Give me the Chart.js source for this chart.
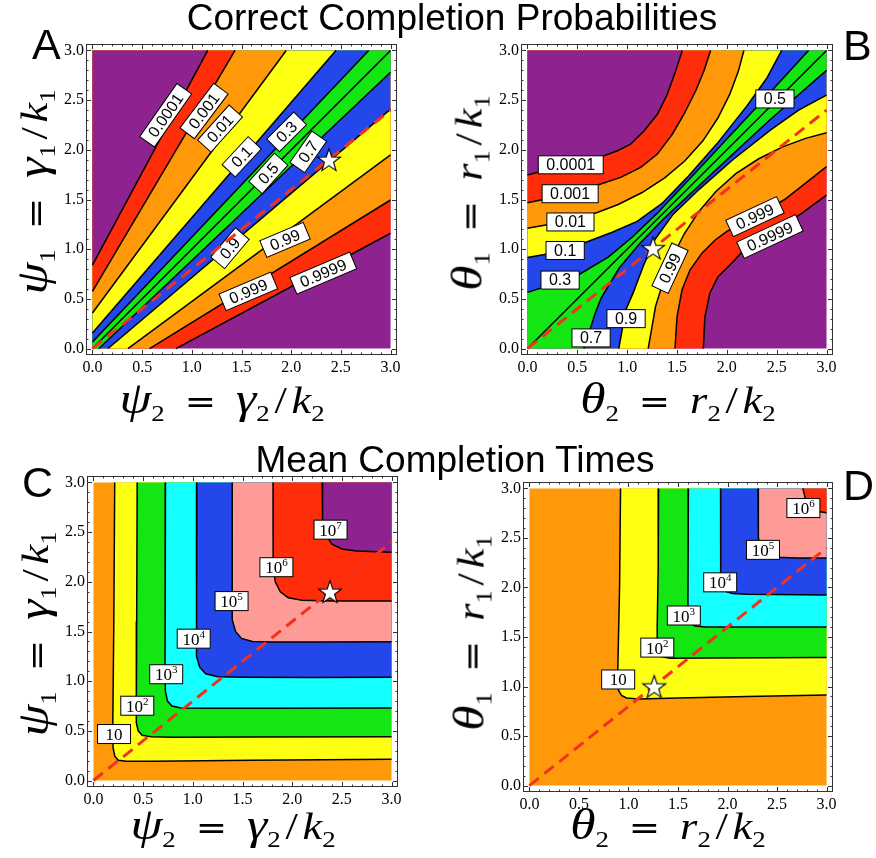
<!DOCTYPE html>
<html><head><meta charset="utf-8">
<script src="https://cdn.jsdelivr.net/npm/chart.js@4.4.0/dist/chart.umd.min.js"></script>
<style>
html,body{margin:0;padding:0;background:#fff;}
#wrap{position:relative;width:876px;height:858px;overflow:hidden;}
canvas{position:absolute;left:0;top:0;}
.t{position:absolute;font-family:"Liberation Sans",Arial,sans-serif;color:#000;white-space:nowrap;line-height:1;z-index:5;}
.title{font-size:37px;transform:translateX(-50%);}
.letter{font-size:43px;}
.ax{position:absolute;z-index:5;font-family:"Liberation Serif","Times New Roman",serif;font-style:italic;font-size:38px;line-height:38px;white-space:nowrap;transform:translate(-50%,-50%) scaleX(1.17);color:#000;}
.ax.rot{transform:translate(-50%,-50%) rotate(-90deg) scaleX(1.17);}
.ax .g{font-size:44px;}
.ax sub{font-size:23px;vertical-align:-8px;line-height:0;font-style:normal;}
.ax .eq{font-family:"DejaVu Sans",sans-serif;font-style:normal;font-size:32px;margin:0 17px;}
.ax .sl{font-style:normal;margin:0 4px;}
</style></head>
<body>
<div id="wrap">
<canvas id="cA" width="876" height="858"></canvas>
<canvas id="cB" width="876" height="858"></canvas>
<canvas id="cC" width="876" height="858"></canvas>
<canvas id="cD" width="876" height="858"></canvas>

<div class="t title" style="left:452px;top:-1px">Correct Completion Probabilities</div>
<div class="t title" style="left:455px;top:441px">Mean Completion Times</div>
<div class="t letter" style="left:32px;top:23px">A</div>
<div class="t letter" style="left:843px;top:24px">B</div>
<div class="t letter" style="left:22px;top:461px">C</div>
<div class="t letter" style="left:843px;top:464px">D</div>

<div class="ax" style="left:222px;top:400px"><span class="g">ψ</span><sub>2</sub><span class="eq">=</span><span class="g">γ</span><sub>2</sub><span class="sl">/</span>k<sub>2</sub></div>
<div class="ax rot" style="left:34px;top:192px"><span class="g">ψ</span><sub>1</sub><span class="eq">=</span><span class="g">γ</span><sub>1</sub><span class="sl">/</span>k<sub>1</sub></div>
<div class="ax" style="left:678px;top:400px"><span class="g">θ</span><sub>2</sub><span class="eq">=</span>r<sub>2</sub><span class="sl">/</span>k<sub>2</sub></div>
<div class="ax rot" style="left:469px;top:193px"><span class="g">θ</span><sub>1</sub><span class="eq">=</span>r<sub>1</sub><span class="sl">/</span>k<sub>1</sub></div>
<div class="ax" style="left:233px;top:826px"><span class="g">ψ</span><sub>2</sub><span class="eq">=</span><span class="g">γ</span><sub>2</sub><span class="sl">/</span>k<sub>2</sub></div>
<div class="ax rot" style="left:35px;top:634px"><span class="g">ψ</span><sub>1</sub><span class="eq">=</span><span class="g">γ</span><sub>1</sub><span class="sl">/</span>k<sub>1</sub></div>
<div class="ax" style="left:668px;top:826px"><span class="g">θ</span><sub>2</sub><span class="eq">=</span>r<sub>2</sub><span class="sl">/</span>k<sub>2</sub></div>
<div class="ax rot" style="left:471px;top:633px"><span class="g">θ</span><sub>1</sub><span class="eq">=</span>r<sub>1</sub><span class="sl">/</span>k<sub>1</sub></div>
</div>

<script>
// ---------------- DATA ----------------
const TICKS = [0, 0.5, 1.0, 1.5, 2.0, 2.5, 3.0];
const REF_LINE = [[0, 0], [3, 2.4]];
const SQUARE = [[0, 0], [3, 0], [3, 3], [0, 3]];

// Panel A: correct completion probability contours (psi2, psi1)
const A_LEVELS = ['0.0001','0.001','0.01','0.1','0.3','0.5','0.7','0.9','0.99','0.999','0.9999'];
const A_C0001 = [[0, 0.84], [1.16, 3]];
const A_C001  = [[0, 0.575], [1.435, 3]];
const A_C01   = [[0, 0.357], [1.95, 3]];
const A_C1    = [[0, 0.157], [2.45, 3]];
const A_C3    = [[0, 0.065], [2.78, 3]];
const A_C5    = [[0, 0], [3, 3]];
const A_C7    = [[0.065, 0], [3, 2.78]];
const A_C9    = [[0.157, 0], [3, 2.41]];
const A_C99   = [[0.357, 0], [3, 1.95]];
const A_C999  = [[0.575, 0], [3, 1.495]];
const A_C9999 = [[0.84, 0], [3, 1.16]];
const A_STAR  = [2.38, 1.9];

// Panel B: correct completion probability contours (theta2, theta1)
const B_LEVELS = ['0.0001','0.001','0.01','0.1','0.3','0.5','0.7','0.9','0.99','0.999','0.9999'];
const B_C0001 = [[0,1.746],[0.435,1.865],[0.768,1.94],[0.902,1.99],[1.035,2.057],[1.169,2.19],[1.303,2.358],[1.403,2.559],[1.486,2.793],[1.553,3.0]];
const B_C001  = [[0,1.468],[0.43,1.555],[0.735,1.656],[0.935,1.723],[1.136,1.823],[1.303,1.957],[1.453,2.157],[1.57,2.358],[1.687,2.592],[1.77,2.793],[1.837,3.0]];
const B_C01   = [[0,1.211],[0.425,1.285],[0.70,1.37],[0.91,1.45],[1.15,1.57],[1.38,1.72],[1.58,1.89],[1.76,2.09],[1.91,2.32],[2.03,2.56],[2.115,2.79],[2.171,3.0]];
const B_C1    = [[0,0.916],[0.385,0.985],[0.56,1.06],[0.85,1.17],[1.1,1.28],[1.35,1.46],[1.6,1.72],[1.9,2.06],[2.2,2.44],[2.4,2.72],[2.55,3.0]];
const B_C3    = [[0,0.565],[0.365,0.683],[0.51,0.74],[0.81,0.92],[1.05,1.12],[1.3,1.36],[1.75,1.84],[2.3,2.43],[2.82,3.0]];
const B_C5    = [[0,0],[3,3]];
const B_C7    = [[0.565,0],[0.683,0.365],[0.74,0.51],[0.92,0.81],[1.12,1.05],[1.36,1.3],[1.84,1.75],[2.43,2.3],[3.0,2.80]];
const B_C9    = [[0.916,0],[0.985,0.385],[1.06,0.56],[1.17,0.85],[1.28,1.1],[1.46,1.35],[1.72,1.6],[2.06,1.9],[2.44,2.2],[2.72,2.4],[3.0,2.55]];
const B_C99   = [[1.211,0],[1.285,0.425],[1.37,0.70],[1.45,0.91],[1.57,1.15],[1.72,1.38],[1.89,1.58],[2.09,1.76],[2.32,1.91],[2.56,2.03],[2.79,2.115],[3.0,2.171]];
const B_C999  = [[1.48,0],[1.50,0.32],[1.55,0.59],[1.63,0.79],[1.75,0.96],[1.88,1.09],[2.0,1.18],[2.28,1.33],[2.58,1.50],[3.0,1.83]];
const B_C9999 = [[1.764,0],[1.78,0.32],[1.83,0.56],[1.91,0.72],[2.05,0.86],[2.17,0.99],[2.43,1.15],[2.75,1.36],[3.0,1.545]];
const B_STAR  = [1.26, 1.01];

// Panel C: mean completion time contours (psi2, psi1), levels 10^k
const C_EXPONENTS = [1, 2, 3, 4, 5, 6, 7];
const C_E1 = [[0.214,3],[0.205,1.6],[0.195,0.6],[0.197,0.33],[0.215,0.245],[0.25,0.205],[0.33,0.195],[0.6,0.195],[1.6,0.205],[3,0.214]];
const C_E2 = [[0.44,3],[0.435,1.6],[0.43,0.8],[0.433,0.58],[0.45,0.5],[0.49,0.455],[0.58,0.44],[0.8,0.435],[1.6,0.437],[3,0.44]];
const C_E3 = [[0.725,3],[0.722,1.8],[0.72,1.1],[0.724,0.9],[0.745,0.8],[0.79,0.75],[0.88,0.73],[1.1,0.727],[1.8,0.728],[3,0.73]];
const C_E4 = [[1.04,3],[1.037,2.0],[1.035,1.45],[1.04,1.25],[1.07,1.14],[1.13,1.075],[1.25,1.045],[1.5,1.04],[2.2,1.038],[3,1.04]];
const C_E5 = [[1.397,3],[1.395,2.2],[1.395,1.8],[1.4,1.62],[1.43,1.5],[1.49,1.43],[1.6,1.4],[1.8,1.395],[2.3,1.395],[3,1.397]];
const C_E6 = [[1.807,3],[1.807,2.5],[1.81,2.15],[1.83,2.0],[1.88,1.9],[1.96,1.84],[2.1,1.815],[2.4,1.808],[3,1.806]];
const C_E7 = [[2.302,3],[2.302,2.75],[2.31,2.6],[2.34,2.47],[2.4,2.38],[2.5,2.33],[2.65,2.31],[3,2.297]];
const C_STAR = [2.38, 1.9];

// Panel D: mean completion time contours (theta2, theta1), levels 10^k
const D_EXPONENTS = [1, 2, 3, 4, 5, 6];
const D_E1 = [[0.92,3],[0.91,2.0],[0.895,1.3],[0.89,1.05],[0.9,0.96],[0.93,0.91],[0.98,0.885],[1.1,0.875],[1.5,0.885],[2.2,0.9],[3,0.914]];
const D_E2 = [[1.304,3],[1.3,2.2],[1.29,1.6],[1.29,1.42],[1.305,1.335],[1.34,1.3],[1.42,1.285],[1.8,1.288],[3,1.292]];
const D_E3 = [[1.605,3],[1.602,2.3],[1.6,1.85],[1.605,1.7],[1.625,1.64],[1.67,1.61],[1.78,1.6],[2.3,1.6],[3,1.6]];
const D_E4 = [[1.93,3],[1.93,2.4],[1.932,2.12],[1.945,2.0],[1.98,1.96],[2.05,1.94],[2.2,1.932],[3,1.925]];
const D_E5 = [[2.308,3],[2.308,2.7],[2.315,2.5],[2.34,2.39],[2.4,2.33],[2.5,2.305],[2.7,2.298],[3,2.297]];
const D_E6 = [[2.76,3],[2.79,2.88],[2.85,2.8],[2.93,2.765],[3,2.755]];
const D_STAR = [1.26, 1.0];

// ---------------- LAYOUT / STYLE ----------------
const COL = {purple:'#8e2390', red:'#ff2d0a', orange:'#ff990a', yellow:'#ffff14', blue:'#2347eb', green:'#14e614', cyan:'#14ffff', pink:'#ff9b96'};
const CLOSE_UPPER = [[0, 3]];
const CLOSE_LOWER = [[3, 3], [0, 3], [0, 0]];
const CLOSE_CORNER = [[3, 3]];

const A_LABEL_POS = [[0.737,2.348,-55],[1.123,2.391,-53],[1.284,2.214,-48],[1.502,1.93,-47],[1.954,2.181,-45],[1.77,1.763,-48],[2.172,1.98,-55],[1.384,1.01,-50],[1.938,1.094,-23],[1.569,0.575,-23],[2.323,0.759,-23]];
const B_LABEL_POS = [[0.434,1.849,0],[0.428,1.558,0],[0.431,1.274,0],[0.378,0.987,0],[0.327,0.689,0],[2.482,2.512,0],[0.638,0.107,0],[0.989,0.301,0],[1.43,0.809,-65],[2.282,1.328,-25],[2.432,1.127,-25]];
const C_LABEL_POS = [[0.207,0.468],[0.441,0.753],[0.732,1.07],[1.009,1.428],[1.39,1.806],[1.841,2.147],[2.386,2.525]];
const D_LABEL_POS = [[0.896,1.071],[1.291,1.393],[1.559,1.717],[1.926,2.052],[2.358,2.38],[2.766,2.802]];

const STAR_IMG = (function(){
  const c = document.createElement('canvas'); c.width = 28; c.height = 28;
  const g = c.getContext('2d');
  g.beginPath();
  for (let i = 0; i < 10; i++) {
    const r = i % 2 === 0 ? 12 : 4.8;
    const a = -Math.PI / 2 + i * Math.PI / 5;
    const px = 14 + r * Math.cos(a), py = 15 + r * Math.sin(a);
    if (i) g.lineTo(px, py); else g.moveTo(px, py);
  }
  g.closePath(); g.fillStyle = '#fff'; g.fill();
  g.lineWidth = 1.1; g.strokeStyle = '#000'; g.stroke();
  return c;
})();

function P(a){ return a.map(p => ({x:p[0], y:p[1]})); }

function makeDatasets(layers, lines, star){
  const ds = [];
  let ord = 100;
  for (const [pts, color] of layers) {
    ds.push({data:P(pts), showLine:true, fill:'shape', backgroundColor:color, borderColor:'rgba(0,0,0,0)', borderWidth:0, pointRadius:0, pointHoverRadius:0, tension:0, order:ord--});
  }
  for (const l of lines) {
    ds.push({data:P(l), showLine:true, fill:false, borderColor:'#000', borderWidth:1.5, pointRadius:0, pointHoverRadius:0, tension:0, order:10});
  }
  ds.push({data:P(REF_LINE), isRef:true, showLine:true, fill:false, borderColor:'#f0321e', borderWidth:3, borderDash:[12,7], pointRadius:0, pointHoverRadius:0, tension:0, order:5});
  ds.push({data:P([star]), isStar:true, showLine:false, pointStyle:STAR_IMG, pointRadius:12, pointHoverRadius:12, order:0});
  return ds;
}

function sup(n){ return n === 1 ? '' : String(n); }

function makeLabelPlugin(items, kind){
  function drawLabels(chart){
    const ctx = chart.ctx, xs = chart.scales.x, ys = chart.scales.y;
    for (const it of items) {
      const px = xs.getPixelForValue(it.x), py = ys.getPixelForValue(it.y);
      ctx.save();
      ctx.translate(px, py);
      ctx.rotate((it.rot || 0) * Math.PI / 180);
      if (kind === 'prob') {
        ctx.font = '16px "Liberation Sans", Arial, sans-serif';
        const tw = ctx.measureText(it.text).width;
        const w = tw + 16, h = 18;
        ctx.fillStyle = '#fff'; ctx.fillRect(-w/2, -h/2, w, h);
        ctx.lineWidth = 1; ctx.strokeStyle = '#000'; ctx.strokeRect(-w/2, -h/2, w, h);
        ctx.fillStyle = '#000'; ctx.textAlign = 'center'; ctx.textBaseline = 'middle';
        ctx.fillText(it.text, 0, 1);
      } else {
        const w = 33, h = 19;
        ctx.fillStyle = '#fff'; ctx.fillRect(-w/2, -h/2, w, h);
        ctx.lineWidth = 1; ctx.strokeStyle = '#000'; ctx.strokeRect(-w/2, -h/2, w, h);
        ctx.fillStyle = '#000'; ctx.textBaseline = 'alphabetic'; ctx.textAlign = 'left';
        ctx.font = '17px "Liberation Serif", "Times New Roman", serif';
        const bw = ctx.measureText('10').width;
        ctx.font = '11px "Liberation Serif", "Times New Roman", serif';
        const ew = it.exp ? ctx.measureText(it.exp).width : 0;
        const x0 = -(bw + ew) / 2;
        ctx.font = '17px "Liberation Serif", "Times New Roman", serif';
        ctx.fillText('10', x0, 6);
        if (it.exp) {
          ctx.font = '11px "Liberation Serif", "Times New Roman", serif';
          ctx.fillText(it.exp, x0 + bw, -1);
        }
      }
      ctx.restore();
    }
  }
  return {
    id: 'clabels',
    beforeDatasetDraw(chart, args){
      if (chart.data.datasets[args.index].isRef) drawLabels(chart);
    }
  };
}

const framePlugin = {
  id: 'frame',
  afterDatasetsDraw(chart){
    const ctx = chart.ctx, a = chart.chartArea, xs = chart.scales.x, ys = chart.scales.y;
    ctx.save();
    ctx.strokeStyle = '#333'; ctx.lineWidth = 1;
    ctx.strokeRect(Math.round(a.left) + 0.5, Math.round(a.top) + 0.5, Math.round(a.right - a.left) - 1, Math.round(a.bottom - a.top) - 1);
    ctx.beginPath();
    for (let i = 0; i <= 30; i++) {
      const v = i / 10, L = (i % 5 === 0) ? 5 : 2.5;
      const px = Math.round(xs.getPixelForValue(v)) + 0.5;
      ctx.moveTo(px, a.bottom); ctx.lineTo(px, a.bottom - L);
      ctx.moveTo(px, a.top); ctx.lineTo(px, a.top + L);
      const py = Math.round(ys.getPixelForValue(v)) + 0.5;
      ctx.moveTo(a.left, py); ctx.lineTo(a.left + L, py);
      ctx.moveTo(a.right, py); ctx.lineTo(a.right - L, py);
    }
    ctx.stroke();
    ctx.restore();
  }
};

const YW = 60, XH = 40;
function axis(which){
  return {
    type: 'linear', min: -0.065, max: 3.065,
    afterBuildTicks: s => { s.ticks = TICKS.map(v => ({value: v})); },
    afterFit: s => { if (which === 'y') s.width = YW; else s.height = XH; },
    ticks: {
      autoSkip: false, maxRotation: 0, color: '#000',
      padding: which === 'y' ? 2 : 3,
      font: {family: '"Liberation Serif", "Times New Roman", serif', size: 16},
      callback: v => Number(v).toFixed(1)
    },
    grid: {display: false, drawTicks: false},
    border: {display: false}
  };
}

function panel(id, frame, datasets, labelPlugin){
  new Chart(document.getElementById(id), {
    type: 'scatter',
    data: {datasets},
    options: {
      responsive: false, animation: false, events: [],
      layout: {padding: {left: frame.l - YW, top: frame.t, right: 876 - frame.r, bottom: 858 - frame.b - XH}},
      plugins: {legend: {display: false}, tooltip: {enabled: false}},
      scales: {x: axis('x'), y: axis('y')}
    },
    plugins: [labelPlugin, framePlugin]
  });
}

// ---------- Panel A ----------
panel('cA', {l:86, t:44, r:397, b:355}, makeDatasets([
  [SQUARE, COL.purple],
  [A_C9999.concat(CLOSE_LOWER), COL.red],
  [A_C999.concat(CLOSE_LOWER), COL.orange],
  [A_C99.concat(CLOSE_LOWER), COL.yellow],
  [A_C9.concat(CLOSE_LOWER), COL.blue],
  [A_C7.concat(CLOSE_LOWER), COL.green],
  [A_C3.concat(CLOSE_UPPER), COL.blue],
  [A_C1.concat(CLOSE_UPPER), COL.yellow],
  [A_C01.concat(CLOSE_UPPER), COL.orange],
  [A_C001.concat(CLOSE_UPPER), COL.red],
  [A_C0001.concat(CLOSE_UPPER), COL.purple]
], [A_C0001, A_C001, A_C01, A_C1, A_C3, A_C5, A_C7, A_C9, A_C99, A_C999, A_C9999], A_STAR),
  makeLabelPlugin(A_LEVELS.map((t, i) => ({text:t, x:A_LABEL_POS[i][0], y:A_LABEL_POS[i][1], rot:A_LABEL_POS[i][2]})), 'prob'));

// ---------- Panel B ----------
panel('cB', {l:521, t:44, r:833, b:355}, makeDatasets([
  [SQUARE, COL.purple],
  [B_C9999.concat(CLOSE_LOWER), COL.red],
  [B_C999.concat(CLOSE_LOWER), COL.orange],
  [B_C99.concat(CLOSE_LOWER), COL.yellow],
  [B_C9.concat(CLOSE_LOWER), COL.blue],
  [B_C7.concat(CLOSE_LOWER), COL.green],
  [B_C3.concat(CLOSE_UPPER), COL.blue],
  [B_C1.concat(CLOSE_UPPER), COL.yellow],
  [B_C01.concat(CLOSE_UPPER), COL.orange],
  [B_C001.concat(CLOSE_UPPER), COL.red],
  [B_C0001.concat(CLOSE_UPPER), COL.purple]
], [B_C0001, B_C001, B_C01, B_C1, B_C3, B_C5, B_C7, B_C9, B_C99, B_C999, B_C9999], B_STAR),
  makeLabelPlugin(B_LEVELS.map((t, i) => ({text:t, x:B_LABEL_POS[i][0], y:B_LABEL_POS[i][1], rot:B_LABEL_POS[i][2]})), 'prob'));

// ---------- Panel C ----------
panel('cC', {l:87, t:476, r:398, b:787}, makeDatasets([
  [SQUARE, COL.orange],
  [C_E1.concat(CLOSE_CORNER), COL.yellow],
  [C_E2.concat(CLOSE_CORNER), COL.green],
  [C_E3.concat(CLOSE_CORNER), COL.cyan],
  [C_E4.concat(CLOSE_CORNER), COL.blue],
  [C_E5.concat(CLOSE_CORNER), COL.pink],
  [C_E6.concat(CLOSE_CORNER), COL.red],
  [C_E7.concat(CLOSE_CORNER), COL.purple]
], [C_E1, C_E2, C_E3, C_E4, C_E5, C_E6, C_E7], C_STAR),
  makeLabelPlugin(C_EXPONENTS.map((e, i) => ({exp:sup(e), x:C_LABEL_POS[i][0], y:C_LABEL_POS[i][1], rot:0})), 'time'));

// ---------- Panel D ----------
panel('cD', {l:523, t:482, r:833, b:792}, makeDatasets([
  [SQUARE, COL.orange],
  [D_E1.concat(CLOSE_CORNER), COL.yellow],
  [D_E2.concat(CLOSE_CORNER), COL.green],
  [D_E3.concat(CLOSE_CORNER), COL.cyan],
  [D_E4.concat(CLOSE_CORNER), COL.blue],
  [D_E5.concat(CLOSE_CORNER), COL.pink],
  [D_E6.concat(CLOSE_CORNER), COL.red]
], [D_E1, D_E2, D_E3, D_E4, D_E5, D_E6], D_STAR),
  makeLabelPlugin(D_EXPONENTS.map((e, i) => ({exp:sup(e), x:D_LABEL_POS[i][0], y:D_LABEL_POS[i][1], rot:0})), 'time'));
</script>
</body></html>
